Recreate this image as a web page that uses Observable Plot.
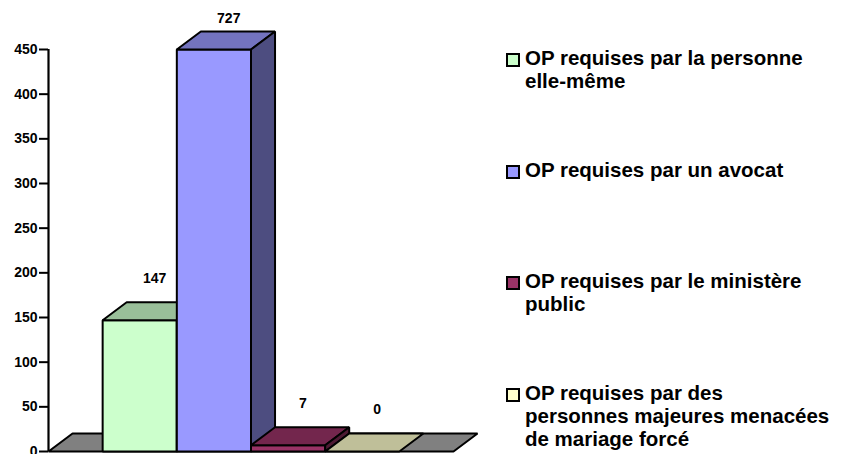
<!DOCTYPE html>
<html>
<head>
<meta charset="utf-8">
<script src="https://cdn.jsdelivr.net/npm/d3@7"></script>
<script src="https://cdn.jsdelivr.net/npm/@observablehq/plot@0.6"></script>
<style>
  body { margin: 0; background: #fff; }
  #wrap { position: relative; width: 844px; height: 454px; overflow: hidden; font-family: "Liberation Sans", Arial, sans-serif; }
  #chart { position: absolute; left: 0; top: 0; }
  #chart svg text { font-weight: bold; font-family: "Liberation Sans", Arial, sans-serif; }
  #chart svg g[aria-label="y-axis tick"] path { stroke-width: 2px; }
  .leg { position: absolute; left: 506px; width: 338px; height: 80px; }
  .sw { position: absolute; left: 0; top: 7px; width: 10px; height: 10px; border: 2px solid #000; }
  .lt { position: absolute; left: 19px; top: 0; font-weight: bold; font-size: 20.5px; line-height: 23px; color: #000; white-space: pre; }
</style>
</head>
<body>
<div id="wrap"><div id="chart"></div></div>
<script>
// ---- data ----
const categories = [
  "OP requises par la personne\nelle-même",
  "OP requises par un avocat",
  "OP requises par le ministère\npublic",
  "OP requises par des\npersonnes majeures menacées\nde mariage forcé"
];
const values = [147, 727, 7, 0];
const colors = ["#ccffcc", "#9999ff", "#993366", "#ffffcc"];
const floorColor = "#808080";
const yTicks = [0, 50, 100, 150, 200, 250, 300, 350, 400, 450];
const yMax = 450;

// ---- 3D geometry (in scale units) ----
const gap = 0.73;          // floor margin either side of the bars
const depthX = 0.324;      // depth offset along x (bar widths)
const depthY = 20.15;      // depth offset along y (value units)
const floorW = 2 * gap + values.length;
const labelLift = 47;      // label distance above the bar, value units
const labelCap = 485;

function shade(c, k) {
  const r = d3.rgb(c);
  return d3.rgb(r.r * k, r.g * k, r.b * k).formatHex();
}

const polys = [];
function poly(id, fill, pts) { pts.forEach(([x, y]) => polys.push({id, fill, x, y})); }

poly("floor", floorColor, [[0, 0], [floorW, 0], [floorW + depthX, depthY], [depthX, depthY]]);
values.forEach((v, i) => {
  const x0 = gap + i, x1 = x0 + 1, h = Math.min(v, yMax);
  if (h > 0) poly("f" + i, colors[i], [[x0, 0], [x1, 0], [x1, h], [x0, h]]);
  poly("t" + i, shade(colors[i], 0.75), [[x0, h], [x1, h], [x1 + depthX, h + depthY], [x0 + depthX, h + depthY]]);
  if (h > 0) poly("s" + i, shade(colors[i], 0.5), [[x1, 0], [x1 + depthX, depthY], [x1 + depthX, h + depthY], [x1, h]]);
});

const labels = values.map((v, i) => ({
  x: gap + i + 0.5 + 0.2,
  y: Math.min(v + labelLift, labelCap),
  text: String(v)
}));

const axisMarks = Plot.axisY
  ? [Plot.axisY({ticks: yTicks, tickSize: 9, tickPadding: 2, stroke: "#000", strokeWidth: 2, fontSize: 14, fontWeight: "bold", label: null})]
  : [];

const chart = Plot.plot({
  width: 844,
  height: 454,
  marginLeft: 48,
  marginRight: 391,
  marginTop: 49,
  marginBottom: 3,
  x: {domain: [0, floorW], axis: null},
  y: Plot.axisY ? {domain: [0, yMax]} : {domain: [0, yMax], ticks: yTicks, tickSize: 9, label: null},
  color: {type: "identity"},
  style: {fontFamily: "'Liberation Sans', Arial, sans-serif", fontSize: "14px", fontWeight: "bold", background: "transparent", overflow: "visible"},
  marks: [
    Plot.line(polys, {x: "x", y: "y", z: "id", fill: "fill", stroke: "#000", strokeWidth: 2, strokeLinejoin: "miter", curve: "linear-closed"}),
    Plot.ruleX([0], {y1: 0, y2: yMax, stroke: "#000", strokeWidth: 2.2}),
    ...axisMarks,
    Plot.text(labels, {x: "x", y: "y", text: "text", fontSize: 14, fontWeight: "bold", fill: "#000"})
  ]
});
document.getElementById("chart").appendChild(chart);

// ---- legend ----
const legendTops = [46, 158, 269, 381];
const wrap = document.getElementById("wrap");
categories.forEach((c, i) => {
  const e = document.createElement("div");
  e.className = "leg";
  e.style.top = legendTops[i] + "px";
  const sw = document.createElement("div");
  sw.className = "sw";
  sw.style.background = colors[i];
  const t = document.createElement("div");
  t.className = "lt";
  t.textContent = c;
  e.appendChild(sw); e.appendChild(t);
  wrap.appendChild(e);
});
</script>
</body>
</html>
